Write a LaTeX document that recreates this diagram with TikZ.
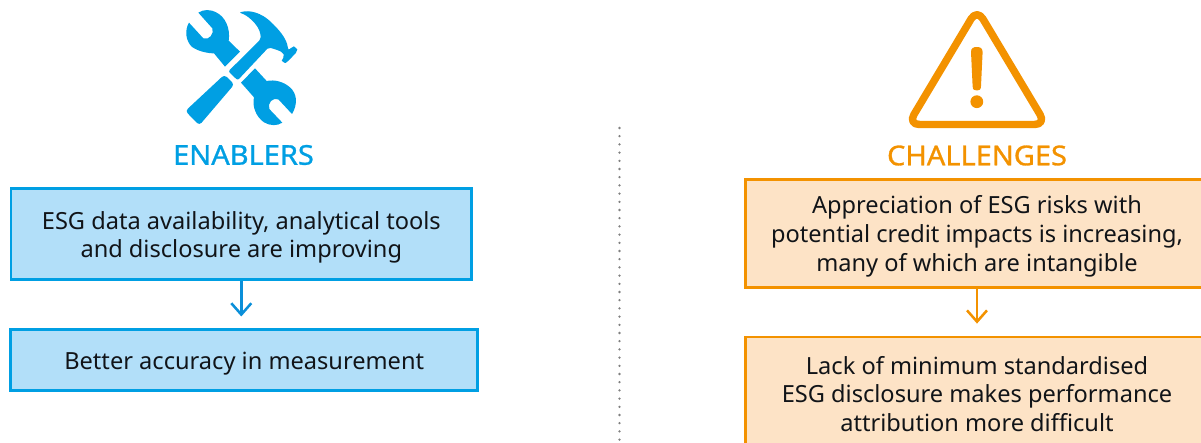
\documentclass[tikz,border=0pt]{standalone}
\usepackage{fontspec}
\setmainfont{Noto Sans}
\usetikzlibrary{arrows.meta}
\definecolor{bblue}{HTML}{009FE3}
\definecolor{bfill}{HTML}{B2DFF9}
\definecolor{oorange}{HTML}{F39200}
\definecolor{ofill}{HTML}{FDE3C6}
\definecolor{arblue}{HTML}{0A8FD9}
\definecolor{txt}{HTML}{111418}
\newcommand{\dropby}[1]{\rule{0pt}{#1}}
\tikzset{
  box/.style={draw,line width=2.1pt,inner sep=0pt,align=center,text=txt,font=\fontsize{17.7}{21.5}\selectfont},
  bluebox/.style={box,draw=bblue,fill=bfill},
  orangebox/.style={box,draw=oorange,fill=ofill},
  title/.style={inner sep=0pt,font=\fontsize{20.5}{24}\selectfont\addfontfeatures{FakeStretch=1.06,RawFeature={embolden=1}}},
  flow/.style={line width=1.9pt,-{Straight Barb[length=8.5pt,width=15pt,line width=1.9pt]},shorten >=9pt},
  sep/.style={draw=gray,line width=1.9pt,line cap=round,dash pattern=on 0pt off 6.15pt},
}
\begin{document}
\begin{tikzpicture}[x=0.75pt,y=-0.75pt]
\useasboundingbox (0,0) rectangle (1201,442);
\clip (0,0) rectangle (1201,442);
% divider
\coordinate (sepA) at (619.5,128);
\coordinate (sepB) at (619.5,442);
\draw[sep] (sepA) -- (sepB);
% boxes
\node[bluebox,minimum width=345.5pt,minimum height=68.5pt] (b1) at (241.3,234.2) {\dropby{18pt}ESG data availability, analytical tools\\and disclosure are improving};
\node[bluebox,minimum width=350.4pt,minimum height=45.2pt] (b2) at (244.2,360) {\dropby{19pt}Better accuracy in measurement};
\node[orangebox,minimum width=347.5pt,minimum height=80.5pt] (o1) at (977,233.5) {\dropby{17.5pt}Appreciation of ESG risks with\\potential credit impacts is increasing,\\many of which are intangible};
\node[orangebox,minimum width=347.5pt,minimum height=84pt] (o2) at (977,393) {\dropby{15pt}Lack of minimum standardised\\ESG disclosure makes performance\\attribution more difficult};
% titles
\node[title,text=bblue] (t1) at (243.5,155) {ENABLERS};
\node[title,text=oorange] (t2) at (977,155.5) {CHALLENGES};
% arrows
\draw[flow,draw=arblue] (b1.south) -- (b1.south |- b2.north);
\draw[flow,draw=oorange] (o1.south) -- (o1.south |- o2.north);
% tools icon
\begin{scope}[shift={(170,0)},x=0.25pt,y=-0.25pt,fill=bblue]
 % upper wrench
 \fill (85,38) -- (127,85) .. controls (133,100) and (118,122) .. (100,115) -- (57,68)
   .. controls (44,90) and (46,120) .. (65,140) .. controls (85,155) and (115,160) .. (132,160)
   -- (165,200) -- (210,155) -- (176,122) .. controls (182,85) and (165,50) .. (140,38) .. controls (120,27) and (100,28) .. (85,38) -- cycle;
 % lower wrench
 \fill (255,205) -- (213,248) -- (252,292) .. controls (246,320) and (258,350) .. (282,367)
   .. controls (300,378) and (322,378) .. (337,368) -- (298,327) .. controls (292,308) and (308,292) .. (325,298)
   -- (366,342) .. controls (385,310) and (380,280) .. (360,262) .. controls (340,245) and (315,238) .. (290,243) -- cycle;
 % hammer grip
 \fill[rounded corners=2.5pt] (163,224) -- (193,253) -- (88,376) -- (46,333) -- cycle;
 % hammer handle and head
 \fill[rounded corners=1.5pt] (175,214) -- (272,118) .. controls (272,100) and (268,85) .. (250,65) .. controls (235,50) and (222,42) .. (207,38)
   .. controls (240,28) and (275,40) .. (305,68) .. controls (325,88) and (345,110) .. (353,138) -- (355,151) -- (366,141)
   .. controls (372,139) and (382,148) .. (382,154) -- (352,186) .. controls (345,190) and (335,183) .. (337,176) -- (344,168)
   .. controls (335,152) and (315,148) .. (296,142) -- (203,241) -- cycle;
\end{scope}
% warning icon
\draw[oorange,line width=5.6pt,line join=round,rounded corners=8.6pt] (977,9) -- (908,124.5) -- (1046,124.5) -- cycle;
\fill[oorange] (971,52) .. controls (971,48) and (973.5,47) .. (976.8,47) .. controls (980,47) and (982.6,48) .. (982.6,52)
  -- (981,86) .. controls (981,90) and (979,90.5) .. (976.8,90.5) .. controls (974.6,90.5) and (972.6,90) .. (972.6,86) -- cycle;
\fill[oorange] (976.8,101.7) circle[radius=4.8pt];
\end{tikzpicture}
\end{document}
